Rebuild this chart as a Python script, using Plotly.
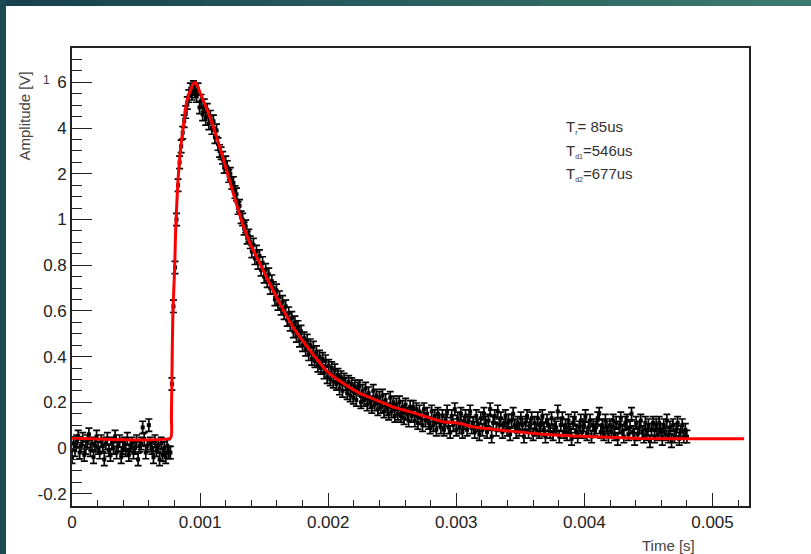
import numpy as np
import plotly.graph_objects as go

# ---------------- data ----------------
DT = 12e-6  # sampling step [s]

BASELINE = [
    -0.04, 0.02, -0.01, 0.03, 0.05, -0.02, 0.01, 0.04, -0.03, 0.00,
    0.03, 0.06, -0.01, 0.02, -0.04, 0.01, 0.05, 0.00, -0.02, 0.03,
    0.01, -0.05, 0.02, 0.04, -0.01, -0.03, 0.02, 0.00, 0.05, -0.02,
    0.01, 0.03, -0.04, 0.00, 0.02, -0.01, 0.04, -0.03, 0.01, 0.02,
    -0.02, 0.00, 0.03, -0.05, 0.01, 0.02, 0.09, 0.04, -0.02, 0.01,
    0.10, 0.02, 0.00, -0.04, 0.03, -0.01, 0.01, -0.05, 0.02, -0.03,
    0.00, -0.04, 0.01, -0.02, -0.02,
]
RISE = [0.28, 0.62, 0.79, 1.00, 1.15, 1.25, 1.32, 1.38, 1.43, 1.47,
        1.51, 1.54, 1.57, 1.55, 1.58, 1.56]
DECAY = [
    1.54, 1.57, 1.49, 1.52, 1.46, 1.50, 1.44, 1.48, 1.42, 1.45,
    1.40, 1.43, 1.36, 1.39, 1.33, 1.30, 1.29, 1.27, 1.23, 1.25,
    1.23, 1.19, 1.20, 1.16, 1.16, 1.12, 1.11, 1.05, 1.06, 1.01,
    1.00, 0.96, 0.97, 0.92, 0.93, 0.90, 0.86, 0.89, 0.83, 0.86,
    0.81, 0.84, 0.78, 0.81, 0.75, 0.78, 0.73, 0.76, 0.70, 0.73,
    0.70, 0.65, 0.69, 0.63, 0.66, 0.61, 0.64, 0.59, 0.62, 0.56,
    0.59, 0.54, 0.57, 0.51, 0.55, 0.49, 0.53, 0.47, 0.51, 0.45,
    0.48, 0.43, 0.47, 0.41, 0.45, 0.39, 0.44, 0.38, 0.42, 0.36,
    0.40, 0.35, 0.39, 0.33, 0.38, 0.31, 0.36, 0.30, 0.35, 0.29,
    0.34, 0.28, 0.32, 0.26, 0.31, 0.25, 0.30, 0.28, 0.24, 0.29,
    0.23, 0.28, 0.22, 0.27, 0.21, 0.26, 0.27, 0.20, 0.25, 0.21,
    0.26, 0.19, 0.24, 0.20, 0.18, 0.25, 0.19, 0.23, 0.17, 0.22,
    0.18, 0.23, 0.16, 0.21, 0.17, 0.15, 0.22, 0.16, 0.20, 0.14,
    0.19, 0.15, 0.20, 0.14, 0.18, 0.13, 0.19, 0.15, 0.12, 0.18,
    0.14, 0.18, 0.12, 0.17, 0.11, 0.16, 0.13, 0.10, 0.17, 0.12,
    0.15, 0.11, 0.09, 0.16, 0.10, 0.14, 0.08, 0.15, 0.12, 0.09,
    0.14, 0.08, 0.12, 0.16, 0.09, 0.07, 0.14, 0.10, 0.17, 0.08,
    0.13, 0.09, 0.15, 0.07, 0.11, 0.14, 0.08, 0.12, 0.16, 0.09,
    0.11, 0.07, 0.14, 0.10, 0.06, 0.13, 0.08, 0.15, 0.11, 0.07,
    0.12, 0.17, 0.05, 0.11, 0.14, 0.08, 0.16, 0.10, 0.13, 0.07,
    0.10, 0.14, 0.08, 0.12, 0.06, 0.12, 0.15, 0.10, 0.07, 0.11,
    0.08, 0.13, 0.10, 0.05, 0.11, 0.14, 0.07, 0.10, 0.13, 0.06,
    0.11, 0.08, 0.13, 0.07, 0.10, 0.14, 0.08, 0.05, 0.12, 0.10,
    0.07, 0.13, 0.06, 0.10, 0.09, 0.16, 0.05, 0.10, 0.13, 0.07,
    0.10, 0.06, 0.12, 0.08, 0.04, 0.11, 0.13, 0.07, 0.05, 0.09,
    0.12, 0.07, 0.10, 0.14, 0.06, 0.09, 0.12, 0.05, 0.10, 0.08,
    0.09, 0.13, 0.15, 0.07, 0.10, 0.06, 0.12, 0.09, 0.05, 0.10,
    0.07, 0.12, 0.06, 0.11, 0.04, 0.09, 0.13, 0.07, 0.05, 0.11,
    0.12, 0.06, 0.09, 0.15, 0.07, 0.04, 0.11, 0.06, 0.09, 0.12,
    0.07, 0.05, 0.11, 0.06, 0.10, 0.03, 0.08, 0.11, 0.05, 0.10,
    0.06, 0.11, 0.08, 0.04, 0.10, 0.06, 0.12, 0.05, 0.09, 0.03,
    0.10, 0.05, 0.08, 0.11, 0.04, 0.07, 0.10, 0.05, 0.08, 0.05,
]
AMP_ERR = 0.027

# fit curve (red)
FIT_T = [0.0, 0.000770, 0.000776, 0.000782, 0.000788, 0.000801, 0.000809,
         0.000827, 0.000846, 0.000872, 0.000897, 0.000931, 0.000950, 0.000965,
         0.000980, 0.000996, 0.001048, 0.001100, 0.001152, 0.001204, 0.001256,
         0.001321, 0.001386, 0.001464, 0.001542, 0.001620, 0.001724,
         0.001854, 0.001984, 0.002114, 0.002244, 0.002374, 0.002504,
         0.002634, 0.002764, 0.002894, 0.003024, 0.003126, 0.003388,
         0.003648, 0.003906, 0.004168, 0.004428, 0.004896, 0.005247]
FIT_A = [0.044, 0.044, 0.13, 0.40, 0.604, 0.779, 0.954,
         1.17, 1.30, 1.42, 1.52, 1.575, 1.595, 1.60,
         1.585, 1.56, 1.49, 1.41, 1.32, 1.22, 1.12,
         1.00, 0.90, 0.81, 0.72, 0.635, 0.53,
         0.43, 0.34, 0.284, 0.24, 0.21, 0.18,
         0.159, 0.137, 0.115, 0.108, 0.093, 0.076,
         0.061, 0.053, 0.047, 0.042, 0.040, 0.040]

Y_TICKVALS = [-0.2, 0.0, 0.2, 0.4, 0.6, 0.8, 1.0, 1.2, 1.4, 1.6]
Y_TICKTEXT = ["-0.2", "0", "0.2", "0.4", "0.6", "0.8", "1", "2", "4", "6"]
X_TICKVALS = [0, 0.001, 0.002, 0.003, 0.004, 0.005]
X_TICKTEXT = ["0", "0.001", "0.002", "0.003", "0.004", "0.005"]

STATS = [("r", "= 85us"), ("d1", "=546us"), ("d2", "=677us")]

# ---------------- figure ----------------
AMP = BASELINE + RISE + DECAY
t = np.arange(len(AMP)) * DT

W, H = 811, 554
L, R, T, B = 72, 62, 48, 48
PW, PH = W - L - R, H - T - B

def px(xp):
    return (xp - L) / PW

def py(yp):
    return (H - B - yp) / PH

fig = go.Figure()
fig.add_trace(go.Scatter(
    x=t, y=AMP, mode="markers",
    marker=dict(symbol="square", size=4, color="black"),
    error_y=dict(type="constant", value=AMP_ERR, color="black",
                 thickness=1.7, width=3.5),
    showlegend=False, hoverinfo="x+y"))
fig.add_trace(go.Scatter(
    x=FIT_T, y=FIT_A, mode="lines",
    line=dict(color="#ff0000", width=3, shape="spline", smoothing=0.4),
    showlegend=False, hoverinfo="skip"))

FONT = "Liberation Sans, Arial, sans-serif"
tickfont = dict(family=FONT, size=17, color="#222")

fig.update_xaxes(
    range=[0, 0.005285], tickmode="array", tickvals=X_TICKVALS, ticktext=X_TICKTEXT,
    ticks="inside", ticklen=13, tickwidth=1.2, tickcolor="#222",
    minor=dict(dtick=0.0002, tick0=0, ticks="inside", ticklen=6, tickwidth=1.2,
               tickcolor="#222", showgrid=False),
    showline=True, linecolor="#222", linewidth=1.6, mirror=True,
    showgrid=False, zeroline=False, tickfont=tickfont)
fig.update_yaxes(
    range=[-0.2538, 1.7505], tickmode="array", tickvals=Y_TICKVALS, ticktext=Y_TICKTEXT,
    ticks="inside", ticklen=20, tickwidth=1.2, tickcolor="#222",
    minor=dict(dtick=0.05, tick0=0, ticks="inside", ticklen=10, tickwidth=1.2,
               tickcolor="#222", showgrid=False),
    showline=True, linecolor="#222", linewidth=1.6, mirror=True,
    showgrid=False, zeroline=False, tickfont=tickfont)

shapes = []
# slide background bands (teal)
c0 = np.array([0x17, 0x40, 0x4c])
c1 = np.array([0x3d, 0x7c, 0x71])
nseg = 24
for k in range(nseg):
    f = (k + 0.5) / nseg
    c = (c0 + (c1 - c0) * f).astype(int)
    shapes.append(dict(type="rect", xref="paper", yref="paper",
                       x0=px(W * k / nseg), x1=px(W * (k + 1) / nseg + 1),
                       y0=py(6), y1=py(0), fillcolor="rgb(%d,%d,%d)" % tuple(c),
                       line=dict(width=0), layer="above"))
shapes.append(dict(type="rect", xref="paper", yref="paper",
                   x0=px(0), x1=px(6), y0=py(H), y1=py(0),
                   fillcolor="#1c4b56", line=dict(width=0), layer="above"))

annotations = [
    dict(text="Amplitude [V]", x=px(24), y=py(70), xref="paper", yref="paper",
         xanchor="center", yanchor="top", textangle=-90, showarrow=False,
         font=dict(family=FONT, size=15, color="#444")),
    dict(text="Time [s]", x=px(697), y=py(545), xref="paper", yref="paper",
         xanchor="right", yanchor="middle", showarrow=False,
         font=dict(family=FONT, size=15, color="#444")),
    dict(text="1", x=px(46), y=py(80), xref="paper", yref="paper",
         xanchor="center", yanchor="middle", showarrow=False,
         font=dict(family=FONT, size=12, color="#333")),
]
for k, (sub, val) in enumerate(STATS):
    annotations.append(dict(
        text="T<sub><span style='font-size:7px'>%s</span></sub>%s" % (sub, val),
        x=px(564), y=py(127 + 23.5 * k), xref="paper", yref="paper",
        xanchor="left", yanchor="middle", showarrow=False,
        font=dict(family=FONT, size=15, color="#333")))

fig.update_layout(
    width=W, height=H, margin=dict(l=L, r=R, t=T, b=B, autoexpand=False),
    paper_bgcolor="white", plot_bgcolor="white",
    shapes=shapes, annotations=annotations, showlegend=False)

fig.write_html("out.html", config={"displayModeBar": False},
               post_script="document.body.style.margin='0';document.body.style.overflow='hidden';")
